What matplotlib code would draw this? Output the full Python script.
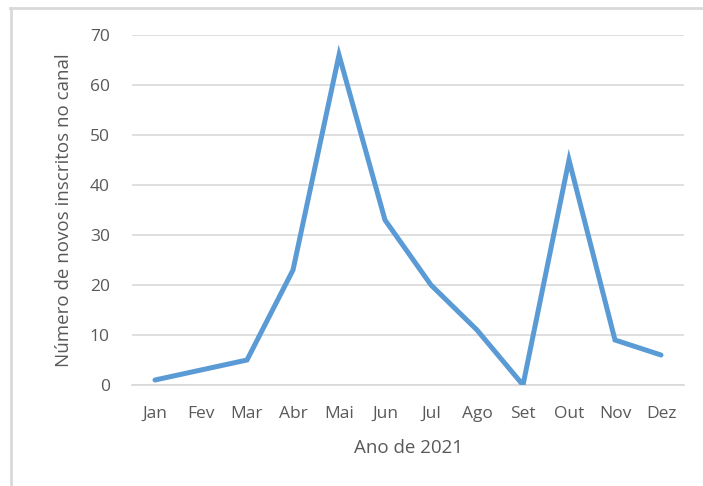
import matplotlib
matplotlib.use("Agg")
import matplotlib.pyplot as plt
from matplotlib.lines import Line2D

meses = ["Jan", "Fev", "Mar", "Abr", "Mai", "Jun", "Jul", "Ago", "Set", "Out", "Nov", "Dez"]
inscritos = [1, 3, 5, 23, 66, 33, 20, 11, 0, 45, 9, 6]
yticks = [0, 10, 20, 30, 40, 50, 60, 70]

plt.rcParams['font.family'] = ['Open Sans', 'DejaVu Sans']
texto = '#595959'

W, H = 703, 486
fig = plt.figure(figsize=(W / 100, H / 100), dpi=100)
ax = fig.add_axes([132 / W, 1 - 385 / H, (684 - 132) / W, (385 - 35) / H])

x = list(range(len(meses)))
ax.plot(x, inscritos, color='#5B9BD5', lw=3.6, solid_joinstyle='miter', solid_capstyle='round', zorder=3)

ax.set_xlim(-0.5, len(meses) - 0.5)
ax.set_ylim(0, 70)
ax.set_yticks(yticks)
ax.set_xticks(x)
ax.set_xticklabels(meses)
ax.grid(axis='y', color='#D9D9D9', lw=1.2)
ax.set_axisbelow(True)
for s in ['top', 'right', 'left']:
    ax.spines[s].set_visible(False)
ax.spines['bottom'].set_color('#D9D9D9')
ax.spines['bottom'].set_linewidth(1.2)
ax.tick_params(length=0, labelsize=12.5, colors=texto, pad=15)
ax.tick_params(axis='y', pad=16)

ax.set_xlabel("Ano de 2021", fontsize=13.5, color=texto, labelpad=12)
ax.set_ylabel("Número de novos inscritos no canal", fontsize=13.5, color=texto, labelpad=12)

# moldura do gráfico
fig.add_artist(Line2D([11 / W, 11 / W], [0, 1 - 8 / H], color='#D9D9D9', lw=2, transform=fig.transFigure))
fig.add_artist(Line2D([10 / W, 1], [1 - 8 / H, 1 - 8 / H], color='#D9D9D9', lw=2, transform=fig.transFigure))

fig.savefig("out.png", dpi=100)
